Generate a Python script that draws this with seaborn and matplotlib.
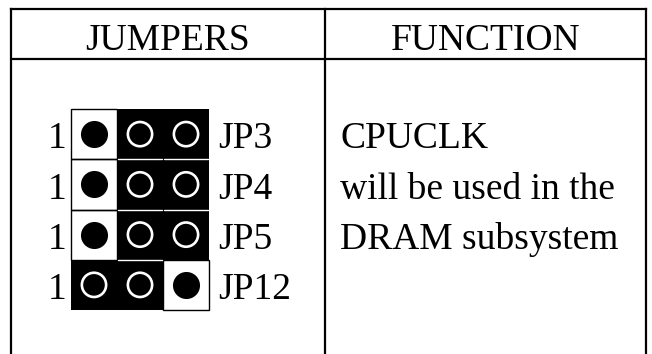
import numpy as np
import pandas as pd
import seaborn as sns
import matplotlib.pyplot as plt
from matplotlib.colors import ListedColormap

# Jumper data: which pins are capped together (1 = inside the black cap)
jumper_names = ["JP3", "JP4", "JP5", "JP12"]
cap_pin1 = [0, 0, 0, 1]
cap_pin2 = [1, 1, 1, 1]
cap_pin3 = [1, 1, 1, 0]
pin_label = "1"
headers = ["JUMPERS", "FUNCTION"]
function_lines = ["CPUCLK", "will be used in the", "DRAM subsystem"]

sns.set_theme(style="white")
plt.rcParams['font.family'] = ['Liberation Serif', 'DejaVu Serif']

W, H = 652, 354
FS = 27
fig = plt.figure(figsize=(W / 100, H / 100), dpi=100)

# background axes in pixel coordinates for the table frame
ax = fig.add_axes([0, 0, 1, 1])
ax.set_xlim(0, W)
ax.set_ylim(H, 0)
ax.axis('off')

left, right, top, head, mid = 11, 646, 9, 59, 325
lw = 1.6
ax.plot([left, right], [top, top], color='black', lw=lw, solid_capstyle='projecting')
ax.plot([left, right], [head, head], color='black', lw=lw)
for x in (left, mid, right):
    ax.plot([x, x], [top, H], color='black', lw=lw, solid_capstyle='projecting')

ax.text((left + mid) / 2, 50, headers[0], ha='center', va='baseline', fontsize=FS, color='black')
ax.text((mid + right) / 2, 50, headers[1], ha='center', va='baseline', fontsize=FS, color='black')

# function text, one line per jumper row
row_top, row_h = 109, 50.25
for i, line in enumerate(function_lines):
    ax.text(340, row_top + row_h * i + 39.5, line, ha='left', va='baseline', fontsize=FS, color='black')

# jumper grid drawn as a heatmap
grid = pd.DataFrame({"p1": cap_pin1, "p2": cap_pin2, "p3": cap_pin3}, index=jumper_names)
gx0, gx1 = 71, 209
gy0, gy1 = row_top, row_top + row_h * len(jumper_names)
gax = fig.add_axes([gx0 / W, 1 - gy1 / H, (gx1 - gx0) / W, (gy1 - gy0) / H])
sns.heatmap(grid, cmap=ListedColormap(['white', 'black']), vmin=0, vmax=1,
            cbar=False, xticklabels=False, yticklabels=False, ax=gax)
gax.set_xlim(0, 3)
gax.set_ylim(len(jumper_names), 0)
for s in gax.spines.values():
    s.set_visible(False)

vals = grid.values
nr, nc = vals.shape
for r in range(nr):
    for c in range(nc):
        if vals[r, c] == 0:
            gax.add_patch(plt.Rectangle((c, r), 1, 1, fill=False, edgecolor='black', lw=1.0, clip_on=False))
        elif r + 1 < nr and vals[r + 1, c] == 1:
            gax.plot([c + 0.02, c + 0.98], [r + 1, r + 1], color='white', lw=1.0)

# pins: filled black where open, hollow white inside the cap
for r in range(nr):
    for c in range(nc):
        if vals[r, c] == 0:
            gax.scatter(c + 0.5, r + 0.5, s=380, color='black', linewidths=0, clip_on=False, zorder=5)
        else:
            gax.scatter(c + 0.5, r + 0.5, s=305, facecolors='none', edgecolors='white', linewidths=1.9, clip_on=False, zorder=5)
    gax.text(-0.3, r + 39.5 / row_h, pin_label, ha='center', va='baseline', fontsize=FS, color='black')
    gax.text(3.2, r + 39.5 / row_h, jumper_names[r], ha='left', va='baseline', fontsize=FS, color='black')

fig.savefig("out.png", dpi=100)
